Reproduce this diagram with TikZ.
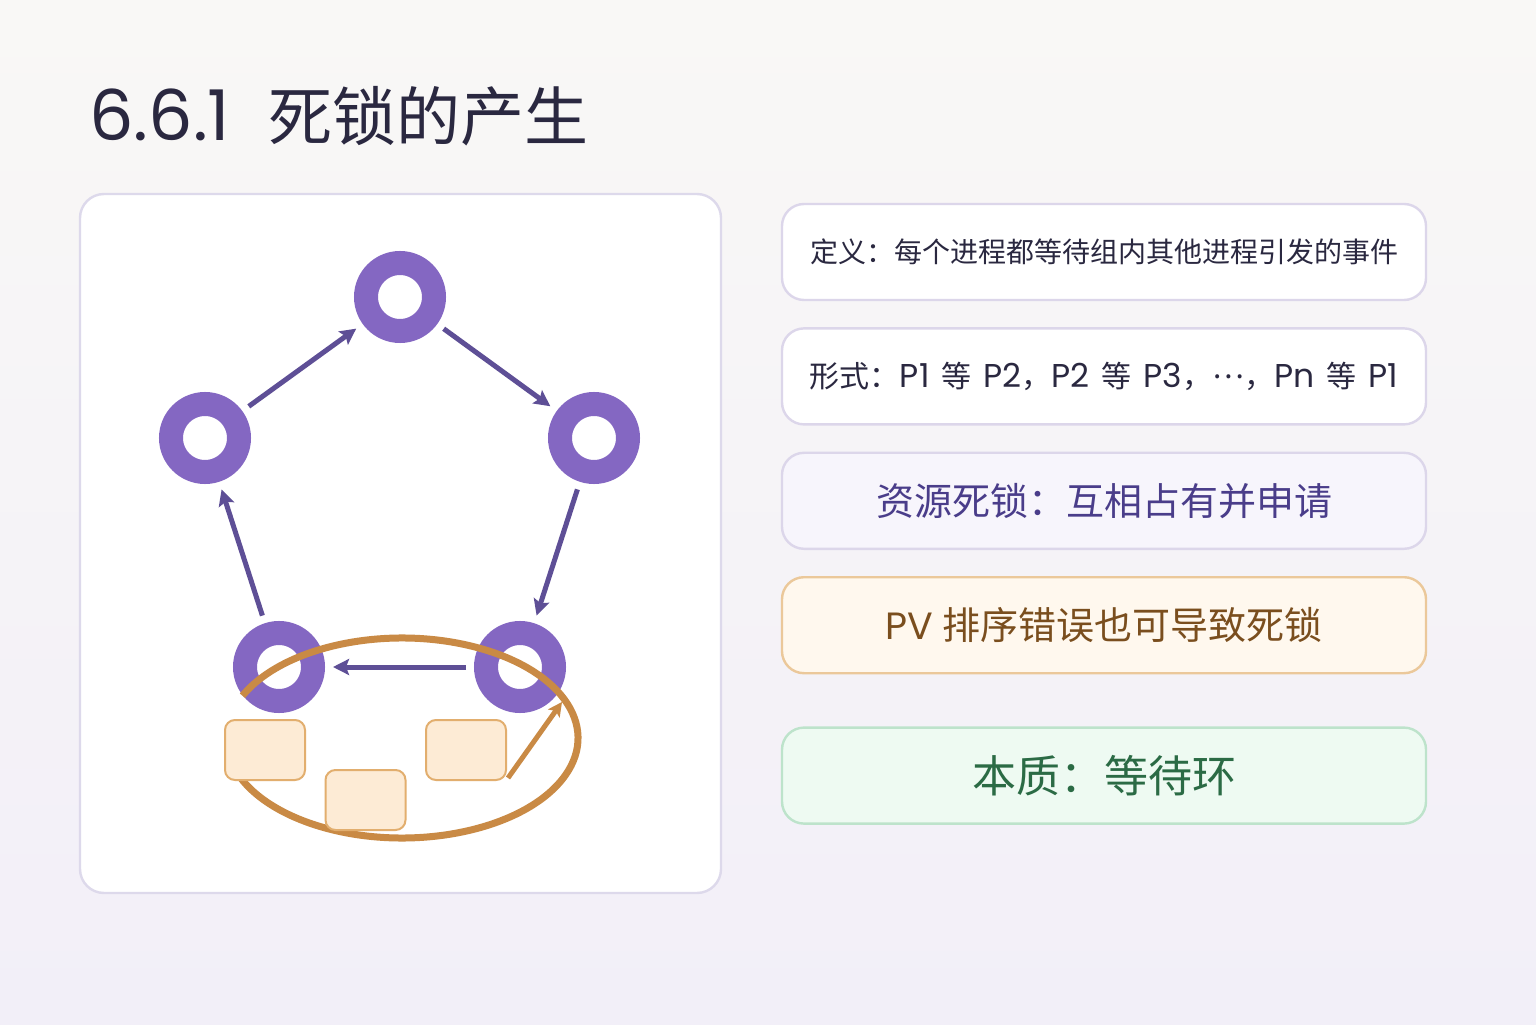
\documentclass[tikz,border=0pt]{standalone}
\usepackage{fontspec}
\setmainfont{Noto Sans CJK SC}
\newfontfamily\lat{Poppins}
\newcommand{\la}[1]{{\lat #1}}
\newcommand{\lb}[1]{{\lat\fontsize{16.5}{18}\selectfont #1}}
\newcommand{\gap}{\hspace{0.4em}}
\usetikzlibrary{arrows.meta,positioning}
\definecolor{ink}{HTML}{2A2840}
\definecolor{bgtop}{HTML}{F9F8F6}
\definecolor{bgbot}{HTML}{F2EFF8}
\definecolor{panelline}{HTML}{DDD9EB}
\definecolor{ringc}{HTML}{8467C2}
\definecolor{flowc}{HTML}{5E4F96}
\definecolor{loopc}{HTML}{C98A45}
\definecolor{resline}{HTML}{E2AE6E}
\definecolor{resfill}{HTML}{FDEBD5}
\definecolor{cardline}{HTML}{DCD6EA}
\definecolor{lavfill}{HTML}{F7F5FC}
\definecolor{lavtext}{HTML}{4A3D8A}
\definecolor{pvfill}{HTML}{FFF8EE}
\definecolor{pvline}{HTML}{EBC89A}
\definecolor{pvtext}{HTML}{7A4E1E}
\definecolor{corefill}{HTML}{EEFAF2}
\definecolor{coreline}{HTML}{BDE3CB}
\definecolor{coretext}{HTML}{2B6B45}

\begin{document}
\begin{tikzpicture}[x=0.5pt,y=0.5pt,>=Stealth,
  ring/.style={circle,draw=ringc,fill=white,line width=12pt,minimum size=34pt,inner sep=0pt,outer sep=6pt},
  flow/.style={-{Stealth[length=8pt,width=8pt,inset=1.5pt]},draw=flowc,line width=2.5pt,shorten <=4pt,shorten >=4pt},
  resbox/.style={draw=resline,fill=resfill,line width=1pt,rounded corners=5pt,minimum width=40pt,minimum height=30pt},
  card/.style={rounded corners=11pt,line width=1.2pt,minimum width=322pt,minimum height=48pt,inner sep=0pt}]
 \useasboundingbox (0,0) rectangle (1536,1024);
 \shade[top color=bgtop,bottom color=bgbot] (0,0) rectangle (1536,1024);
 \node[anchor=base west,inner sep=0pt,text=ink,font=\fontsize{35}{38}\selectfont] (title) at (89,883) {\la{6.6.1}\hspace{19pt}{\fontsize{32}{36}\selectfont 死锁的产生}};
 \draw[draw=panelline,fill=white,line width=1.2pt,rounded corners=12pt] (80,131) rectangle (721,830);
 \node[ring] (ptop) at (400,727) {};
 \node[ring] (pleft) at (205,586) {};
 \node[ring] (pright) at (594,586) {};
 \node[ring] (pbl) at (279,357) {};
 \node[ring] (pbr) at (520,357) {};
 \draw[flow] (pleft) -- (ptop);
 \draw[flow] (ptop) -- (pright);
 \draw[flow] (pright) -- (pbr);
 \draw[flow] (pbr) -- (pbl);
 \draw[flow] (pbl) -- (pleft);
 \draw[loopc,line width=3.5pt] (402,286) ++(155:176 and 100) arc[start angle=155,end angle=-160,x radius=176,y radius=100];
 \node[resbox] (r1) at (265,274) {};
 \node[resbox] (r2) at (365.5,224) {};
 \node[resbox] (r3) at (466,274) {};
 \coordinate (hold) at (562,322);
 \draw[-{Stealth[length=7pt,width=7pt,inset=1.5pt]},loopc,line width=2.5pt] ([shift={(1,3)}]r3.south east) -- (hold);
 \node[card,draw=cardline,fill=white,text=ink,font=\fontsize{14}{16}\selectfont] (def) at (1104,772) {定义：每个进程都等待组内其他进程引发的事件};
 \node[card,draw=cardline,fill=white,text=ink,font=\fontsize{15}{17}\selectfont,below=13pt of def] (form) {形式：\lb{P1}\gap 等\gap\lb{P2}，\lb{P2}\gap 等\gap\lb{P3}，\raisebox{0.3em}{…}，\lb{Pn}\gap 等\gap\lb{P1}};
 \node[card,draw=cardline,fill=lavfill,text=lavtext,font=\fontsize{19}{22}\selectfont,below=13pt of form] (lock) {资源死锁：互相占有并申请};
 \node[card,draw=pvline,fill=pvfill,text=pvtext,font=\fontsize{19}{22}\selectfont,below=13pt of lock] (pv) {\la{PV}\hspace{0.25em}排序错误也可导致死锁};
 \node[card,draw=coreline,fill=corefill,text=coretext,font=\fontsize{22}{25}\selectfont,below=26pt of pv] (core) {本质：等待环};
\end{tikzpicture}
\end{document}
